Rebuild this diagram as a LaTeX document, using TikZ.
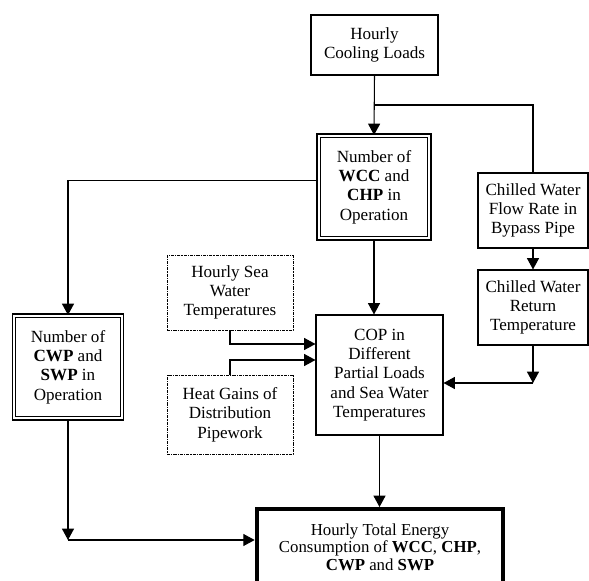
\documentclass[tikz,border=0pt]{standalone}
\usepackage{fontspec}
\setmainfont{Liberation Serif}
\usetikzlibrary{arrows.meta}

\begin{document}
\begin{tikzpicture}[x=0.75pt, y=-0.75pt,
    every node/.style={font=\fontsize{12.8}{14.5}\selectfont, align=center, inner sep=0pt},
    plain/.style={draw, line width=0.8pt, minimum width=#1},
    twin/.style={draw, double, line width=1pt, double distance=1.5pt, minimum width=#1},
    given/.style={draw, line width=0.7pt, dash pattern=on 2.4pt off 0.8pt on 0.8pt off 0.8pt, minimum width=#1},
    result/.style={draw, line width=3pt, minimum width=#1, font=\fontsize{12.6}{13.2}\selectfont},
    arr/.style={-{Triangle[length=8.5pt, width=9pt]}, line width=0.8pt},
    link/.style={line width=0.8pt}]
    \useasboundingbox (0,0) rectangle (589,581);
    % Cajas
    \node[plain=95.25pt, minimum height=45pt] (load) at (374.5,45) {Hourly\\Cooling Loads};
    \node[twin=83pt, minimum height=77pt] (wcc) at (374,187) {Number of\\\textbf{WCC} and\\\textbf{CHP} in\\Operation};
    \node[plain=82.5pt, minimum height=56.25pt] (bypass) at (533,210.5) {Chilled Water\\Flow Rate in\\Bypass Pipe};
    \node[plain=82.5pt, minimum height=56.25pt] (ret) at (533,307.5) {Chilled Water\\Return\\Temperature};
    \node[given=94.5pt, minimum height=56.25pt] (sea) at (230,292.5) {Hourly Sea\\Water\\Temperatures};
    \node[given=94.5pt, minimum height=59.25pt] (heat) at (230,414.5) {Heat Gains of\\Distribution\\Pipework};
    \node[plain=95.25pt, minimum height=90pt] (cop) at (379.5,375) {COP in\\Different\\Partial Loads\\and Sea Water\\Temperatures};
    \node[twin=81pt, minimum height=77pt] (cwp) at (68,367) {Number of\\\textbf{CWP} and\\\textbf{SWP} in\\Operation};
    \node[result=185pt, minimum height=57pt] (total) at (380,547) {Hourly Total Energy\\Consumption of \textbf{WCC}, \textbf{CHP},\\\textbf{CWP} and \textbf{SWP}};

    % Puntos de union
    \coordinate (jL) at (load.south |- 0,105);
    \coordinate (jR) at (ret.south |- 0,383);
    \coordinate (jC) at (cwp.south |- 0,540);

    % Flechas
    \draw[arr] (load.south) -- (wcc.north);
    \draw[link] (jL) -| (bypass.north);
    \draw[arr] ([yshift=5pt]wcc.west) -| (cwp.north);
    \draw[arr] (wcc.south) -- (wcc.south |- cop.north);
    \draw[arr] (bypass.south) -- (ret.north);
    \draw[arr] (ret.south) -- (jR);
    \draw[arr] (jR) -- (jR -| cop.east);
    \draw[arr] (sea.south) |- ([yshift=23.25pt]cop.west);
    \draw[arr] (heat.north) |- ([yshift=11.25pt]cop.west);
    \draw[arr] (cwp.south) -- (jC);
    \draw[arr] (jC) -- (jC -| total.west);
    \draw[arr] (cop.south) -- (cop.south |- total.north);
\end{tikzpicture}
\end{document}
